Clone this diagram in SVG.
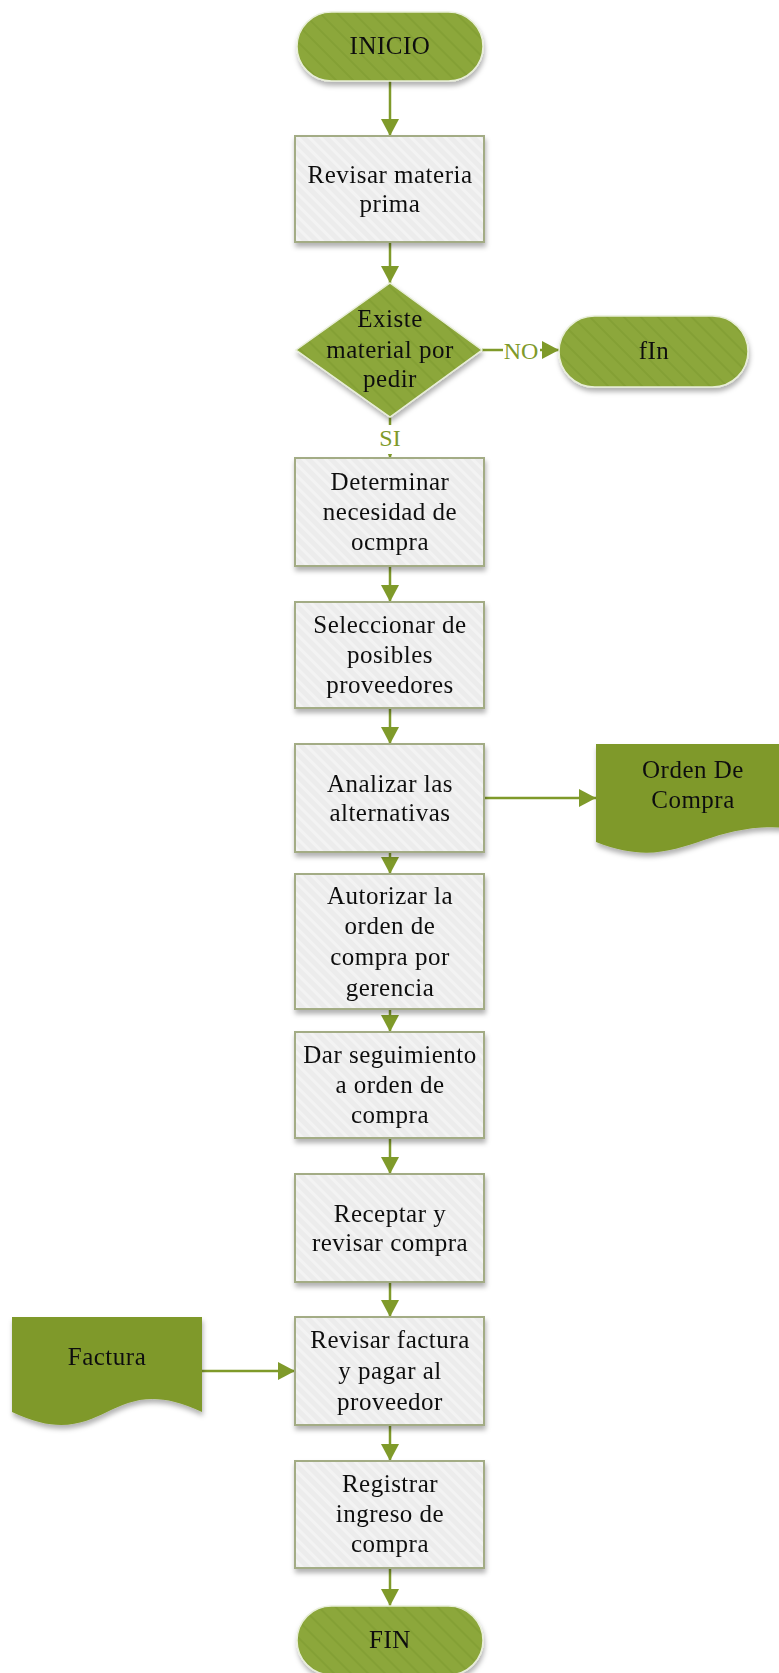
<svg xmlns="http://www.w3.org/2000/svg" width="779" height="1673" viewBox="0 0 779 1673">
<defs>
<style>
.t{font-family:"Liberation Serif","Times New Roman",serif;font-size:25px;letter-spacing:0.5px;fill:#111;text-anchor:middle}
.lbl{font-family:"Liberation Serif","Times New Roman",serif;font-size:24px;fill:#7F9A2A;text-anchor:middle}
.box{fill:url(#hatchGray);stroke:#A3AC85;stroke-width:2}
.green{fill:url(#hatchGreen);stroke:#E8EED8;stroke-width:1.5}
.doc{fill:#7F992C}
.c{fill:none;stroke:#7F9A2A;stroke-width:2.5}
</style>
<pattern id="hatchGray" patternUnits="userSpaceOnUse" width="8" height="8" patternTransform="rotate(-45)">
<rect width="8" height="8" fill="#ECECEC"/>
<rect width="3" height="8" fill="#F3F3F3"/>
</pattern>
<pattern id="hatchGreen" patternUnits="userSpaceOnUse" width="12" height="12" patternTransform="rotate(-45)">
<rect width="12" height="12" fill="#8CA73B"/>
<rect width="2" height="12" fill="#84A035"/>
</pattern>
<filter id="sh" x="-10%" y="-10%" width="130%" height="140%">
<feDropShadow dx="1" dy="4" stdDeviation="2.5" flood-color="#000" flood-opacity="0.3"/>
</filter>
<marker id="ah" markerUnits="userSpaceOnUse" markerWidth="18" markerHeight="18" refX="17" refY="9" orient="auto" viewBox="0 0 18 18">
<path d="M0,0 L17,9 L0,18 Z" fill="#7F9A2A"/>
</marker>
</defs>

<g id="connectors">
<line class="c" x1="390" y1="81" x2="390" y2="136" marker-end="url(#ah)"/>
<line class="c" x1="390" y1="242" x2="390" y2="283" marker-end="url(#ah)"/>
<line class="c" x1="390" y1="417" x2="390" y2="458" marker-end="url(#ah)"/>
<line class="c" x1="390" y1="566" x2="390" y2="602" marker-end="url(#ah)"/>
<line class="c" x1="390" y1="708" x2="390" y2="744" marker-end="url(#ah)"/>
<line class="c" x1="390" y1="852" x2="390" y2="874" marker-end="url(#ah)"/>
<line class="c" x1="390" y1="1009" x2="390" y2="1032" marker-end="url(#ah)"/>
<line class="c" x1="390" y1="1138" x2="390" y2="1174" marker-end="url(#ah)"/>
<line class="c" x1="390" y1="1282" x2="390" y2="1317" marker-end="url(#ah)"/>
<line class="c" x1="390" y1="1425" x2="390" y2="1461" marker-end="url(#ah)"/>
<line class="c" x1="390" y1="1568" x2="390" y2="1606" marker-end="url(#ah)"/>
<line class="c" x1="482" y1="350" x2="559" y2="350" marker-end="url(#ah)"/>
<line class="c" x1="484" y1="798" x2="596" y2="798" marker-end="url(#ah)"/>
<line class="c" x1="202" y1="1371" x2="295" y2="1371" marker-end="url(#ah)"/>
<rect x="503" y="336" width="37" height="28" fill="#fff"/>
<text class="lbl" x="521" y="359">NO</text>
<rect x="378" y="425" width="24" height="29" fill="#fff"/>
<text class="lbl" x="390" y="446">SI</text>
</g>

<g id="inicio" filter="url(#sh)">
<rect class="green" x="297" y="12" width="186" height="69" rx="34.5"/>
<text class="t" x="390" y="54">INICIO</text>
</g>

<g id="revisar-materia" filter="url(#sh)">
<rect class="box" x="295" y="136" width="189" height="106"/>
<text class="t" x="390" y="183">Revisar materia</text>
<text class="t" x="390" y="212">prima</text>
</g>

<g id="decision" filter="url(#sh)">
<polygon class="green" points="390,283 482,350 390,417 296,350"/>
<text class="t" x="390" y="327">Existe</text>
<text class="t" x="390" y="358">material por</text>
<text class="t" x="390" y="387">pedir</text>
</g>

<g id="fin-no" filter="url(#sh)">
<rect class="green" x="559" y="316" width="189" height="71" rx="35.5"/>
<text class="t" x="654" y="359">fIn</text>
</g>

<g id="determinar" filter="url(#sh)">
<rect class="box" x="295" y="458" width="189" height="108"/>
<text class="t" x="390" y="490">Determinar</text>
<text class="t" x="390" y="520">necesidad de</text>
<text class="t" x="390" y="550">ocmpra</text>
</g>

<g id="seleccionar" filter="url(#sh)">
<rect class="box" x="295" y="602" width="189" height="106"/>
<text class="t" x="390" y="633">Seleccionar de</text>
<text class="t" x="390" y="663">posibles</text>
<text class="t" x="390" y="693">proveedores</text>
</g>

<g id="analizar" filter="url(#sh)">
<rect class="box" x="295" y="744" width="189" height="108"/>
<text class="t" x="390" y="792">Analizar las</text>
<text class="t" x="390" y="821">alternativas</text>
</g>

<g id="orden-compra" filter="url(#sh)">
<path class="doc" d="M596,744 H800 V830 L790,828 C700,820 680,875 596,842 Z"/>
<text class="t" x="693" y="778">Orden De</text>
<text class="t" x="693" y="808">Compra</text>
</g>

<g id="autorizar" filter="url(#sh)">
<rect class="box" x="295" y="874" width="189" height="135"/>
<text class="t" x="390" y="904">Autorizar la</text>
<text class="t" x="390" y="934">orden de</text>
<text class="t" x="390" y="965">compra por</text>
<text class="t" x="390" y="996">gerencia</text>
</g>

<g id="seguimiento" filter="url(#sh)">
<rect class="box" x="295" y="1032" width="189" height="106"/>
<text class="t" x="390" y="1063">Dar seguimiento</text>
<text class="t" x="390" y="1093">a orden de</text>
<text class="t" x="390" y="1123">compra</text>
</g>

<g id="receptar" filter="url(#sh)">
<rect class="box" x="295" y="1174" width="189" height="108"/>
<text class="t" x="390" y="1222">Receptar y</text>
<text class="t" x="390" y="1251">revisar compra</text>
</g>

<g id="factura" filter="url(#sh)">
<path class="doc" d="M12,1317 H202 V1412 C107,1367 107,1457 12,1412 Z"/>
<text class="t" x="107" y="1365">Factura</text>
</g>

<g id="revisar-factura" filter="url(#sh)">
<rect class="box" x="295" y="1317" width="189" height="108"/>
<text class="t" x="390" y="1348">Revisar factura</text>
<text class="t" x="390" y="1379">y pagar al</text>
<text class="t" x="390" y="1410">proveedor</text>
</g>

<g id="registrar" filter="url(#sh)">
<rect class="box" x="295" y="1461" width="189" height="107"/>
<text class="t" x="390" y="1492">Registrar</text>
<text class="t" x="390" y="1522">ingreso de</text>
<text class="t" x="390" y="1552">compra</text>
</g>

<g id="fin" filter="url(#sh)">
<rect class="green" x="297" y="1606" width="186" height="69" rx="34.5"/>
<text class="t" x="390" y="1648">FIN</text>
</g>
</svg>
